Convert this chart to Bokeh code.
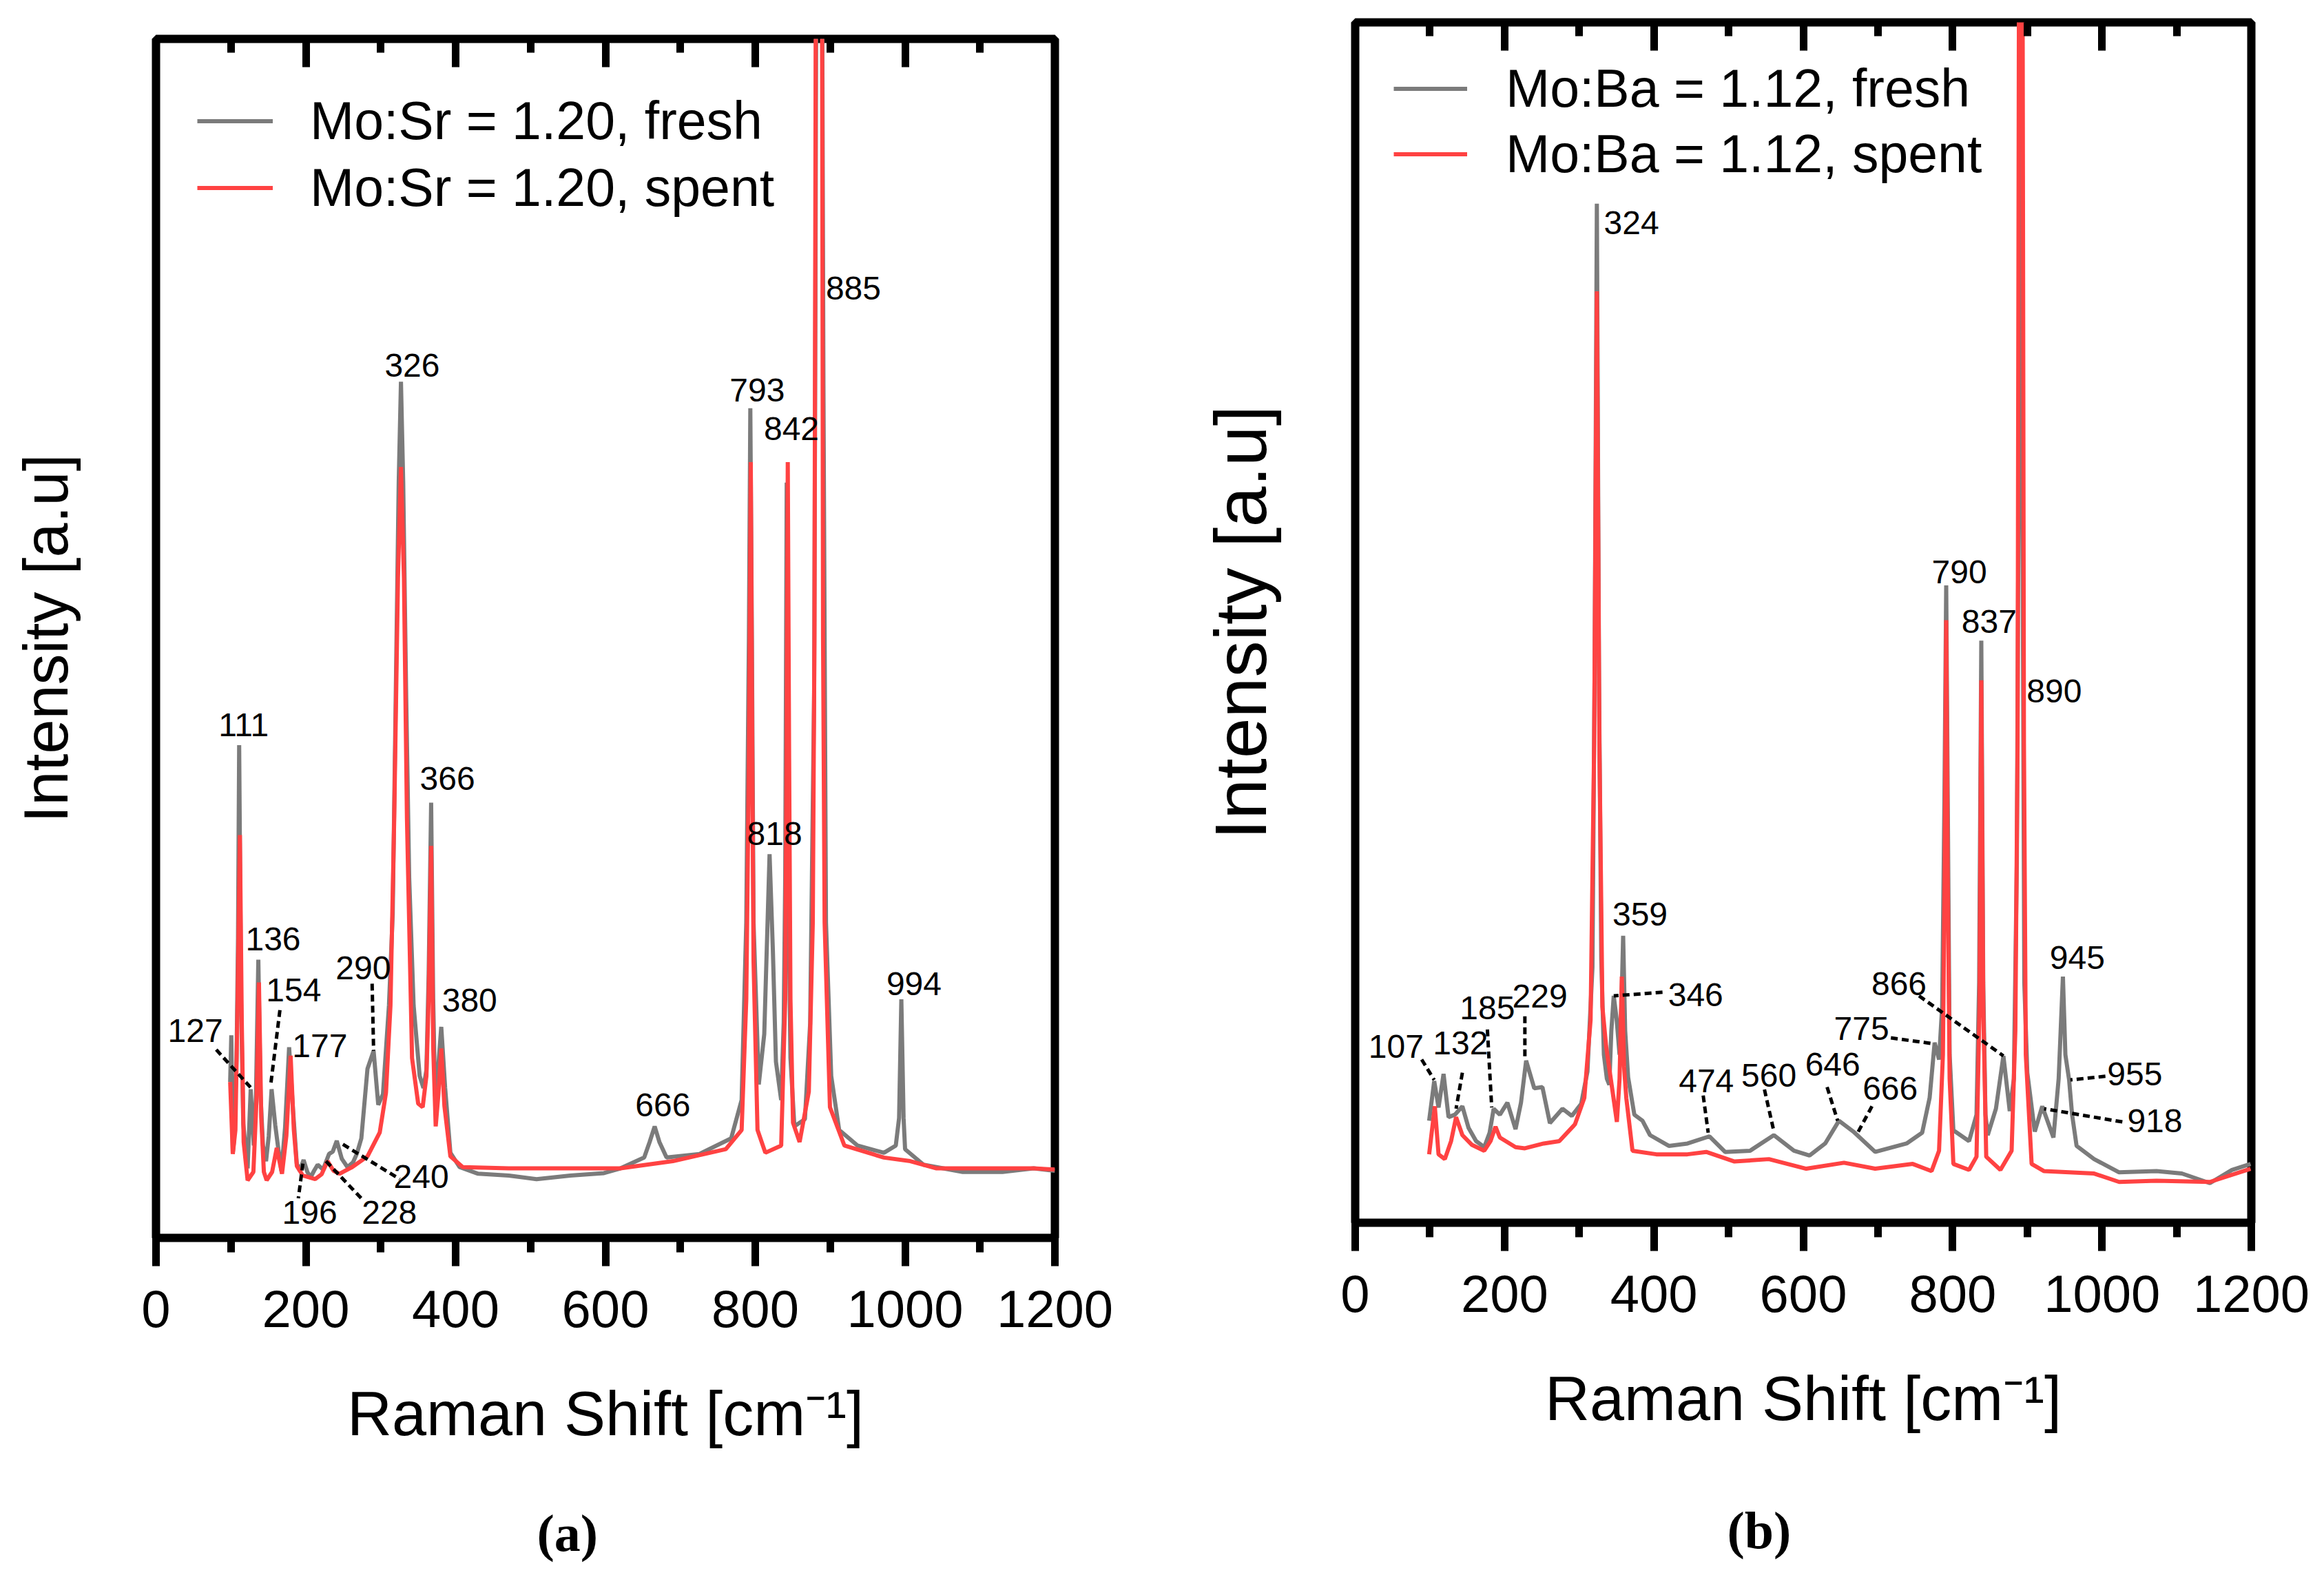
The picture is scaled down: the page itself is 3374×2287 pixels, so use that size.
from bokeh.core.properties import value
from bokeh.embed import file_html
from bokeh.layouts import column, row
from bokeh.models import (FixedTicker, Legend, LegendItem, LinearAxis,
                          Range1d, SingleIntervalTicker, Title)
from bokeh.plotting import figure
from bokeh.resources import INLINE

# Raman spectra (y in % of the frame height)

# --- (a) Mo:Sr = 1.20 ---
sr_fresh_x = [99, 100.5, 102.5, 104, 107.5, 109.5, 111, 113.5, 116.5, 122.3, 126.4, 130.5,
              133.5, 136.6, 139.5, 142.8, 146.9, 150.5, 154.3, 159.2, 163.3, 167.4, 172.3,
              177.7, 183, 187.9, 192, 197, 202, 206.4, 211, 215.8, 223, 231, 236, 241.3,
              248, 255.6, 263, 268, 274.1, 282.3, 290.5, 296.7, 303, 311, 316, 320, 324,
              327, 330, 334, 338, 343.9, 352, 357, 361, 364, 367.3, 370, 372.6, 376.5,
              380.8, 386, 393, 405.4, 430, 471, 508, 553, 598, 620, 651.7, 659, 665.7, 672,
              681.6, 725.5, 767.8, 781.8, 788, 791.5, 793.4, 795.5, 797.7, 804.7, 812,
              819.1, 823.5, 827.6, 834.6, 838, 840, 842, 844, 847, 852.2, 866.3, 873.3,
              878.6, 880.3, 882, 885, 888.5, 891, 894.4, 901.4, 912, 936.6, 971.8, 987.6,
              992, 995, 998, 1000, 1024.6, 1077, 1130, 1171.6, 1200]
sr_fresh_y = [13.0, 16.9, 7.1, 8.0, 15.0, 25.0, 41.1, 20.0, 9.5, 5.8, 12.4, 7.7,
              12.0, 23.2, 12.0, 7.7, 6.4, 8.5, 12.4, 9.4, 7.4, 5.6, 9.2,
              15.9, 10.6, 6.2, 5.6, 6.5, 5.5, 5.05, 5.6, 6.1, 5.7, 7.0, 7.2, 8.1,
              6.6, 5.9, 6.3, 7.0, 8.3, 14.1, 15.6, 11.1, 12.0, 19.4, 27.0, 45.0, 63.0,
              71.4, 63.0, 45.0, 30.0, 19.4, 13.5, 12.5, 14.0, 22.0, 36.3, 20.0, 11.8, 14.0,
              17.6, 12.5, 7.1, 5.9, 5.35, 5.2, 4.9, 5.2, 5.4, 5.8, 6.7, 8.0, 9.3, 8.0,
              6.7, 7.0, 8.3, 11.5, 26.3, 50.0, 69.2, 50.0, 26.3, 12.8, 17.0,
              32.0, 24.0, 14.7, 11.5, 18.0, 30.0, 63.0, 30.0, 15.0, 9.3, 9.9, 17.9,
              45.5, 77.6, 120.0, 250.0, 120.0, 71.2, 26.3, 13.5, 9.0, 7.7, 7.1, 7.7,
              10.0, 19.9, 10.0, 7.4, 6.1, 5.5, 5.5, 5.8, 5.6]

sr_spent_x = [99, 102.5, 106, 109, 112, 114.5, 117, 122.3, 130, 134.5, 137.4, 140.5, 144,
              147.7, 155, 161.2, 168.2, 174, 179.7, 184, 188, 196, 212.5, 221, 229, 237,
              245, 261.8, 282.3, 298.7, 307, 313, 318, 323, 327, 331, 335, 341.8, 350, 356,
              361, 364, 367.3, 370, 373.4, 377, 380.8, 385, 393, 409.5, 471, 553, 620, 690,
              760.7, 781.8, 788, 791.5, 794, 796, 797.7, 803, 813.5, 834.6, 840, 841.8,
              843.4, 845.2, 847, 850.4, 859.2, 871.5, 876.8, 879, 881, 885, 889, 890.5,
              892.6, 899.7, 919, 971.8, 1007, 1042, 1171.6, 1200]
sr_spent_y = [13.0, 7.0, 9.0, 20.0, 33.6, 18.0, 8.0, 4.8, 5.5, 12.0, 21.3, 10.0, 5.5,
              4.8, 5.5, 7.5, 5.35, 8.5, 15.2, 9.0, 6.0, 5.2, 4.9, 5.3, 6.4, 5.6,
              5.35, 5.9, 6.8, 8.8, 12.1, 19.4, 35.0, 55.0, 64.3, 55.0, 35.0, 15.0, 11.2, 10.9,
              13.5, 20.0, 32.7, 16.0, 9.3, 12.0, 15.8, 11.0, 6.8, 5.9, 5.8, 5.8, 5.8, 6.4,
              7.4, 9.0, 19.9, 40.0, 64.7, 40.0, 23.1, 9.0, 7.1, 7.7, 19.9, 40.0,
              64.7, 40.0, 19.9, 9.6, 8.0, 12.2, 26.3, 50.0, 110.0, 300.0, 110.0, 50.0,
              26.3, 10.9, 7.7, 6.7, 6.4, 5.8, 5.8, 5.7]

sr_labels = ["111", "136", "154", "127", "177", "290", "326", "366", "380", "240",
             "196", "228", "666", "793", "842", "885", "818", "994"]
sr_label_x = [116.9, 156.3, 183.8, 52.5, 218.7, 276.6, 342, 389, 418.6, 354.1,
              205.2, 311.5, 676.6, 802.6, 848.3, 931, 825.8, 1011.9]
sr_label_y = [42.8, 24.9, 20.7, 17.3, 16.0, 22.5, 72.8, 38.3, 19.8, 5.1,
              2.1, 2.1, 11.1, 70.7, 67.5, 79.2, 33.7, 21.2]

sr_lead_x0 = [80.4, 165.4, 288.5, 196.1, 226.9, 249.5]
sr_lead_y0 = [15.7, 19.0, 21.2, 6.2, 6.4, 7.8]
sr_lead_x1 = [128.4, 153.0, 290.5, 190.0, 274.1, 325.4]
sr_lead_y1 = [12.4, 12.7, 15.6, 3.3, 3.3, 4.9]

# --- (b) Mo:Ba = 1.12 ---
ba_fresh_x = [99, 105.8, 111.6, 118.3, 125, 133.4, 143.5, 151.8, 161.9, 172.8, 180, 185.4,
              193.7, 203.8, 214.7, 222, 228.9, 239.8, 250.7, 260.7, 277.5, 290, 302.6, 311,
              317.7, 320.5, 323.6, 326.5, 329.5, 333, 337, 340.3, 343, 346.2, 350, 354,
              356.5, 358.8, 361.5, 365.5, 373.8, 384.7, 394.8, 420, 445, 474.4, 495.3,
              528.8, 560.7, 587.5, 608.4, 629.3, 647.8, 667, 696.3, 738.3, 759.2, 769.2,
              775.9, 781.8, 786, 789, 791.4, 793.5, 796, 801, 822, 832, 835.5, 838.4, 841,
              844, 847, 858, 868, 876.5, 882, 886, 889, 891.3, 893.5, 896, 900, 910, 920,
              935, 942, 947.7, 951, 956, 960, 966, 989.5, 1023, 1073, 1107, 1144.5, 1174,
              1199]
ba_fresh_y = [8.5, 11.8, 9.6, 12.4, 8.8, 9.0, 9.7, 7.9, 6.8, 6.3, 7.5, 9.5,
              9.0, 10.0, 7.8, 10.0, 13.5, 11.2, 11.3, 8.3, 9.5, 8.9, 9.9, 12.6,
              21.3, 45.0, 84.9, 45.0, 22.0, 14.0, 12.0, 11.5, 16.0, 18.9, 17.0, 14.0,
              18.0, 23.9, 16.0, 12.1, 9.0, 8.5, 7.3, 6.4, 6.6, 7.2, 5.9,
              6.0, 7.3, 6.0, 5.6, 6.6, 8.5, 7.6, 5.9, 6.6, 7.5, 10.4,
              15.0, 13.6, 18.0, 35.0, 53.1, 35.0, 14.0, 7.7, 6.8, 9.0, 20.0, 48.5, 20.0,
              9.0, 7.3, 9.5, 13.9, 9.3, 12.0, 30.0, 70.0, 97.0, 60.0, 20.0, 12.5, 7.6, 9.7,
              7.1, 12.0, 20.5, 14.0, 11.9, 9.0, 6.4, 5.3, 4.2, 4.3, 4.1, 3.3, 4.4,
              4.9]

ba_spent_x = [99, 106.6, 111.6, 120, 128.4, 135.1, 143.5, 156, 172.8, 181.2, 187.9, 193.7,
              214.7, 227.2, 252.4, 273.3, 294.3, 306.8, 315.2, 320, 323.6, 327, 331, 336,
              344.5, 350.4, 354, 357, 360, 363, 371.3, 403.2, 445, 470, 507.9, 554, 604,
              654.5, 696.3, 746.6, 771.8, 781.8, 787, 789.5, 791.4, 793.3, 796, 801, 822,
              832, 836, 838.4, 841, 845, 864, 879, 884, 887, 889, 891.3, 893.5, 895.5, 898,
              905.8, 922.5, 989.5, 1023, 1073, 1144.5, 1199]
ba_spent_y = [5.7, 9.7, 5.7, 5.3, 6.8, 8.8, 7.3, 6.5, 6.0, 6.8, 8.0, 7.1,
              6.3, 6.2, 6.6, 6.8, 8.2, 10.4, 16.9, 40.0, 77.6, 40.0, 18.0, 14.7,
              11.0, 8.4, 12.0, 20.5, 13.0, 10.4, 6.0, 5.7, 5.7, 5.9, 5.1, 5.3, 4.5,
              5.0, 4.5, 4.9, 4.3, 6.0, 14.0, 30.0, 50.2, 30.0, 12.0, 4.9, 4.4,
              5.5, 18.0, 45.2, 18.0, 5.5, 4.4, 6.0, 16.0, 40.0, 110.0, 250.0, 110.0, 40.0, 14.0,
              4.9, 4.3, 4.1, 3.4, 3.5, 3.4, 4.5]

ba_labels = ["324", "359", "346", "229", "185", "107", "132", "474", "560", "646",
             "666", "775", "866", "790", "837", "890", "945", "955", "918"]
ba_label_x = [370, 381.4, 455.9, 247.3, 177, 54.7, 141, 470.2, 554, 639.4,
              716.4, 678, 728.2, 809, 848.9, 936, 967, 1044, 1070.8]
ba_label_y = [83.3, 25.7, 19.0, 18.9, 17.9, 14.7, 15.0, 11.8, 12.3, 13.2,
              11.2, 16.2, 19.9, 54.2, 50.1, 44.3, 22.1, 12.4, 8.5]

ba_lead_x0 = [89, 143.5, 177, 227.2, 411.5, 466, 548, 631.9, 692, 717.3, 755, 1004.6, 1027.3]
ba_lead_y0 = [13.6, 12.5, 16.1, 17.2, 19.2, 10.6, 11.1, 11.3, 9.7, 15.4, 18.9, 12.2, 8.4]
ba_lead_x1 = [105.8, 135.1, 182.8, 227.2, 346.2, 472.7, 560.7, 646, 672.9, 775.9, 868, 957.7, 922.5]
ba_lead_y1 = [11.9, 9.5, 9.6, 13.6, 18.9, 7.5, 7.6, 8.5, 7.5, 14.9, 13.9, 11.9, 9.5]

GRAY = "#7b7b7b"
RED = "#ff4242"
SANS = "Liberation Sans"


def make_panel(frame_w, frame_h, border, fresh, spent, names, labels, leads,
               legend_pos, legend_row, glyph_w, standoff_lbl, ylabel_size, ylabel_standoff,
               caption, caption_offset, caption_standoff):
    left, right, top, bottom = border
    p = figure(frame_width=frame_w, frame_height=frame_h, title=None,
               output_backend="svg", toolbar_location=None,
               x_range=Range1d(0, 1200), y_range=Range1d(0, 100))
    p.min_border_left, p.min_border_right = left, right
    p.min_border_top, p.min_border_bottom = top, bottom
    p.background_fill_color = "white"
    p.border_fill_color = "white"
    p.outline_line_color = "black"
    p.outline_line_width = 12
    p.xgrid.grid_line_color = None
    p.ygrid.grid_line_color = None

    ticker = SingleIntervalTicker(interval=200, num_minor_ticks=2)
    xa = p.xaxis[0]
    xa.ticker = ticker
    xa.axis_line_color = None
    xa.major_tick_out, xa.major_tick_in = 41, 0
    xa.minor_tick_out, xa.minor_tick_in = 21, 0
    xa.major_tick_line_width = 11
    xa.minor_tick_line_width = 11
    xa.major_label_text_font = SANS
    xa.major_label_text_font_size = "76px"
    xa.major_label_text_color = "black"
    xa.major_label_standoff = 35
    xa.axis_label = "Raman Shift [cm\u207b\u00b9]"
    xa.axis_label_text_font = SANS
    xa.axis_label_text_font_size = "90px"
    xa.axis_label_text_font_style = "normal"
    xa.axis_label_text_color = "black"
    xa.axis_label_standoff = 73

    top_axis = LinearAxis(ticker=ticker, major_label_text_color=None,
                          major_label_text_font_size="10px",
                          axis_line_color=None, major_tick_in=41, major_tick_out=0,
                          minor_tick_in=20, minor_tick_out=0,
                          major_tick_line_width=11, minor_tick_line_width=11)
    p.add_layout(top_axis, "above")

    ya = p.yaxis[0]
    ya.ticker = FixedTicker(ticks=[])
    ya.axis_line_color = None
    ya.major_tick_out = 0
    ya.minor_tick_out = 0
    ya.axis_label = "Intensity [a.u]"
    ya.axis_label_text_font = SANS
    ya.axis_label_text_font_size = ylabel_size
    ya.axis_label_text_font_style = "normal"
    ya.axis_label_text_color = "black"
    ya.axis_label_standoff = ylabel_standoff

    r_fresh = p.line(fresh[0], fresh[1], line_color=GRAY, line_width=6)
    r_spent = p.line(spent[0], spent[1], line_color=RED, line_width=6)

    p.segment(leads[0], leads[1], leads[2], leads[3], line_color="black",
              line_width=5, line_dash="10 6")
    p.text(labels[1], labels[2], text=labels[0], text_font=value(SANS),
           text_font_size=value("48px"), text_color="black",
           text_align="center", text_baseline="middle")

    legend = Legend(items=[LegendItem(label=names[0], renderers=[r_fresh]),
                           LegendItem(label=names[1], renderers=[r_spent])],
                    location=legend_pos, orientation="vertical",
                    label_text_font=SANS, label_text_font_size="77px",
                    label_text_color="black",
                    glyph_width=glyph_w, glyph_height=legend_row,
                    label_height=legend_row, label_standoff=standoff_lbl,
                    spacing=0, padding=0, margin=0,
                    border_line_color=None, background_fill_alpha=0)
    p.add_layout(legend)

    p.add_layout(Title(text=caption, align="left", offset=caption_offset,
                       standoff=caption_standoff, text_font="Liberation Serif",
                       text_font_size="76px", text_font_style="bold",
                       text_color="black"), "below")
    return p


pa = make_panel(1305, 1741, (226, 177, 56, 481),
                (sr_fresh_x, sr_fresh_y), (sr_spent_x, sr_spent_y),
                ["Mo:Sr = 1.20, fresh", "Mo:Sr = 1.20, spent"],
                (sr_labels, sr_label_x, sr_label_y),
                (sr_lead_x0, sr_lead_y0, sr_lead_x1, sr_lead_y1),
                (60, 1476), 97, 110, 54, "90px", 110, "(a)", 553, 152)

pb = make_panel(1301, 1743, (259, 98, 32, 503),
                (ba_fresh_x, ba_fresh_y), (ba_spent_x, ba_spent_y),
                ["Mo:Ba = 1.12, fresh", "Mo:Ba = 1.12, spent"],
                (ba_labels, ba_label_x, ba_label_y),
                (ba_lead_x0, ba_lead_y0, ba_lead_x1, ba_lead_y1),
                (56, 1504), 95, 107, 56, "106px", 108, "(b)", 540, 188)

layout = row(column(pa), column(pb))
open("out.html", "w").write(file_html(layout, INLINE))
